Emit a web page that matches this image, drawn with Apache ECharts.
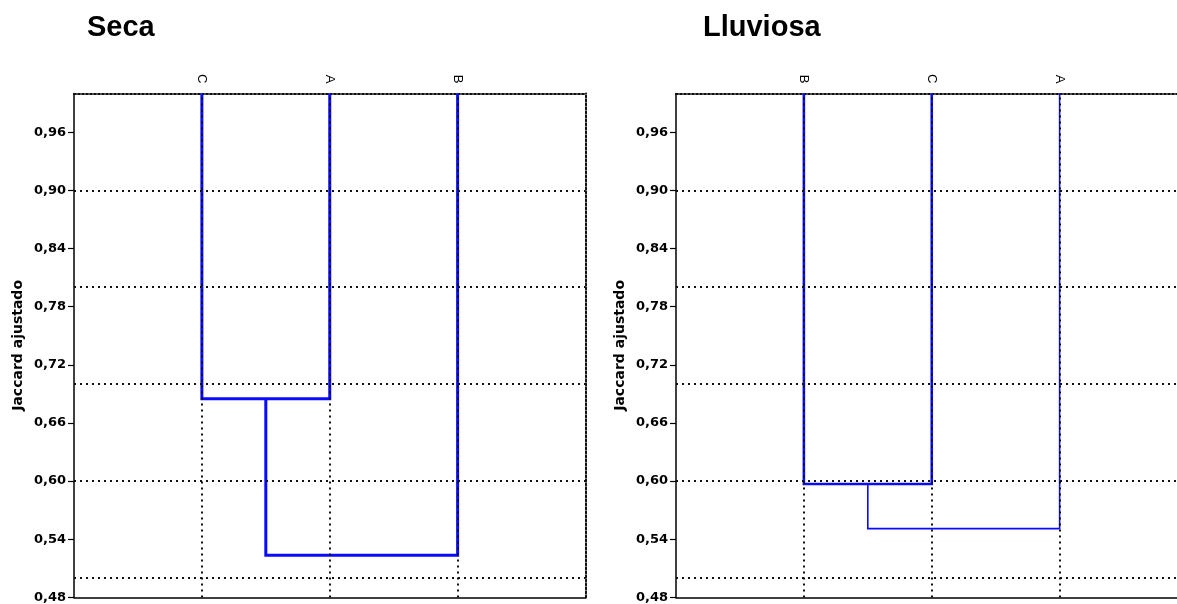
<!DOCTYPE html>
<html><head><meta charset="utf-8">
<script src="https://cdn.jsdelivr.net/npm/echarts@6/dist/echarts.min.js"></script>
<style>html,body{margin:0;padding:0;background:#fff;overflow:hidden;width:1177px;height:604px}#c{width:1188px;height:604px}</style>
</head><body><div id="c"></div>
<script>
// ---- data ----
const panelTitles = ['Seca', 'Lluviosa'];
const secaLeaves = ['C', 'A', 'B'];
const secaMerges = [0.685, 0.5235];        // merge heights: (leaf1+leaf2), (cluster+leaf3)
const lluviosaLeaves = ['B', 'C', 'A'];
const lluviosaMerges = [0.597, 0.551];
const yTicks = [0.48, 0.54, 0.60, 0.66, 0.72, 0.78, 0.84, 0.90, 0.96];
const gridLevels = [0.5, 0.6, 0.7, 0.8, 0.9];
const leafPositions = [1, 2, 3];
const yMin = 0.48, yMax = 1.0, xMin = 0, xMax = 4;
const axisName = 'Jaccard ajustado';

// ---- layout/style ----
const panels = [
  {leaves: secaLeaves, merges: secaMerges, left: 74, width: 511.5, title: panelTitles[0], titleLeft: 87, widths: [3, 3]},
  {leaves: lluviosaLeaves, merges: lluviosaMerges, left: 676, width: 511.5, title: panelTitles[1], titleLeft: 703, widths: [2.6, 1.6]}
];
const BLUE = '#0a0aff';
const DOT = {color: '#111', width: 2, type: [2, 4]};
const tickFont = 'DejaVu Sans';

const option = {
  animation: false,
  backgroundColor: '#fff',
  title: [], grid: [], xAxis: [], yAxis: [], series: []
};

panels.forEach((p, i) => {
  option.title.push({
    text: p.title, left: p.titleLeft, top: 13, padding: 0,
    textStyle: {fontFamily: 'Liberation Sans', fontWeight: 'bold', fontSize: 29, color: '#000'}
  });
  option.grid.push({left: p.left, width: p.width, top: 93.4, bottom: 6.6, containLabel: false});
  // top x axis with leaf labels (dotted border)
  option.xAxis.push({
    type: 'value', gridIndex: i, position: 'top', min: xMin, max: xMax, interval: 1,
    axisLine: {show: true, onZero: false, lineStyle: {color: '#111', width: 2, type: [2, 2]}},
    axisTick: {show: false}, splitLine: {show: false},
    axisLabel: {
      customValues: leafPositions, rotate: 90, margin: 10, color: '#000',
      fontFamily: 'Liberation Sans', fontSize: 13,
      formatter: v => p.leaves[Math.round(v) - 1] || ''
    }
  });
  // bottom x axis (solid line)
  option.xAxis.push({
    type: 'value', gridIndex: i, position: 'bottom', min: xMin, max: xMax,
    axisLine: {show: true, onZero: false, lineStyle: {color: '#000', width: 1.5}},
    axisTick: {show: false}, axisLabel: {show: false}, splitLine: {show: false}
  });
  // left y axis
  option.yAxis.push({
    type: 'value', gridIndex: i, position: 'left', min: yMin, max: yMax, interval: 0.06,
    name: axisName, nameLocation: 'middle', nameGap: 49, nameRotate: 90,
    nameTextStyle: {fontFamily: tickFont, fontWeight: 'bold', fontSize: 14, color: '#000'},
    axisLine: {show: true, onZero: false, lineStyle: {color: '#000', width: 1.5}},
    axisTick: {show: true, customValues: yTicks, length: 6, lineStyle: {color: '#000', width: 1.2}},
    axisLabel: {
      customValues: yTicks, margin: 8, color: '#000',
      fontFamily: tickFont, fontWeight: 'bold', fontSize: 13,
      formatter: v => v.toFixed(2).replace('.', ',')
    },
    splitLine: {show: false}
  });
  // right y axis (dotted border)
  option.yAxis.push({
    type: 'value', gridIndex: i, position: 'right', min: yMin, max: yMax,
    axisLine: {show: true, onZero: false, lineStyle: {color: '#111', width: 2, type: [2, 2]}},
    axisTick: {show: false}, axisLabel: {show: false}, splitLine: {show: false}
  });

  const xi = i * 2, yi = i * 2;
  // dotted grid lines
  option.series.push({
    type: 'line', xAxisIndex: xi, yAxisIndex: yi, data: [], silent: true, z: 1,
    markLine: {
      silent: true, symbol: 'none', animation: false, label: {show: false},
      lineStyle: DOT,
      data: gridLevels.map(v => ({yAxis: v})).concat(leafPositions.map(v => ({xAxis: v})))
    }
  });
  // dendrogram links
  const m1 = p.merges[0], m2 = p.merges[1];
  const x1 = leafPositions[0], x2 = leafPositions[1], x3 = leafPositions[2];
  const link1 = [[x1, yMax], [x1, m1], [x2, m1], [x2, yMax]];
  const link2 = [[(x1 + x2) / 2, m1], [(x1 + x2) / 2, m2], [x3, m2], [x3, yMax]];
  [link1, link2].forEach((d, k) => {
    option.series.push({
      type: 'line', xAxisIndex: xi, yAxisIndex: yi, data: d, z: 3,
      symbol: 'none', silent: true,
      lineStyle: {color: BLUE, width: p.widths[k], join: 'miter'}
    });
  });
});

const chart = echarts.init(document.getElementById('c'), null, {renderer: 'canvas'});
chart.setOption(option);
</script>
</body></html>
